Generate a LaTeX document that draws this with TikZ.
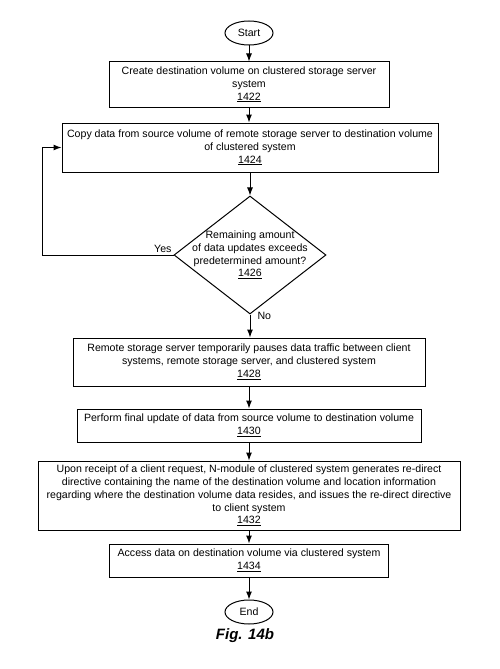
\documentclass[tikz,border=0pt]{standalone}
\usepackage{fontspec}
\setmainfont{Liberation Sans}
\usetikzlibrary{shapes.geometric}
\usetikzlibrary{arrows.meta}

\begin{document}
\begin{tikzpicture}[x=1pt,y=-1pt,line width=1pt,font=\fontsize{10.6}{12.8}\selectfont]
      \useasboundingbox (0,0) rectangle (500,669);
      \begin{scope}[every node/.style={ellipse, draw, minimum width=48pt, minimum height=24pt, inner sep=0pt}]
        \node (start) at (249,33) {Start};
        \node (end) at (249,612) {End};
      \end{scope}
      \begin{scope}[every node/.style={rectangle, draw, align=center, inner sep=0pt}]
        \node[minimum width=280pt, minimum height=45pt] (s1422) at (249,84.5) {Create destination volume on clustered storage server\\system\\\underline{1422}};
        \node[minimum width=376pt, minimum height=49pt] (s1424) at (250,147.5) {Copy data from source volume of remote storage server to destination volume\\of clustered system\\\underline{1424}};
        \node[minimum width=352pt, minimum height=48pt] (s1428) at (249,362) {Remote storage server temporarily pauses data traffic between client\\systems, remote storage server, and clustered system\\\underline{1428}};
        \node[minimum width=344pt, minimum height=33pt] (s1430) at (249,425.5) {Perform final update of data from source volume to destination volume\\\underline{1430}};
        \node[minimum width=422pt, minimum height=69pt] (s1432) at (249,495.5) {Upon receipt of a client request, N-module of clustered system generates re-direct\\directive containing the name of the destination volume and location information\\regarding where the destination volume data resides, and issues the re-direct directive\\to client system\\\underline{1432}};
        \node[minimum width=279pt, minimum height=33pt] (s1434) at (249,560.5) {Access data on destination volume via clustered system\\\underline{1434}};
      \end{scope}
      \node[diamond, draw, minimum width=152pt, minimum height=118pt, inner sep=0pt] (s1426) at (250,255) {};
      \node[align=center, inner sep=0pt] at (s1426) {Remaining amount\\of data updates exceeds\\predetermined amount?\\\underline{1426}};
      \coordinate (loop) at (42,255);
      \begin{scope}[every edge/.style={draw=black, -{Latex[length=8pt,width=6pt]}}]
        \path (start) edge (s1422);
        \path (s1422) edge (s1422.south |- s1424.north);
        \path (s1424.south -| s1426.north) edge (s1426);
        \path (s1426) edge (s1426.south |- s1428.north);
        \path (s1428) edge (s1430);
        \path (s1430) edge (s1432);
        \path (s1432) edge (s1434);
        \path (s1434) edge (end);
      \end{scope}
      \draw[-{Latex[length=8pt,width=6pt]}] (s1426.west) -- node[pos=0, anchor=south east, inner sep=1.5pt] {Yes} (loop) |- (s1424.west);
      \node[anchor=north west, inner sep=0pt] at ([xshift=7pt,yshift=3pt]s1426.south) {No};
      \node (fig) at (245,636) {\fontsize{15}{18}\selectfont\bfseries\itshape Fig. 14b};
\end{tikzpicture}
\end{document}
